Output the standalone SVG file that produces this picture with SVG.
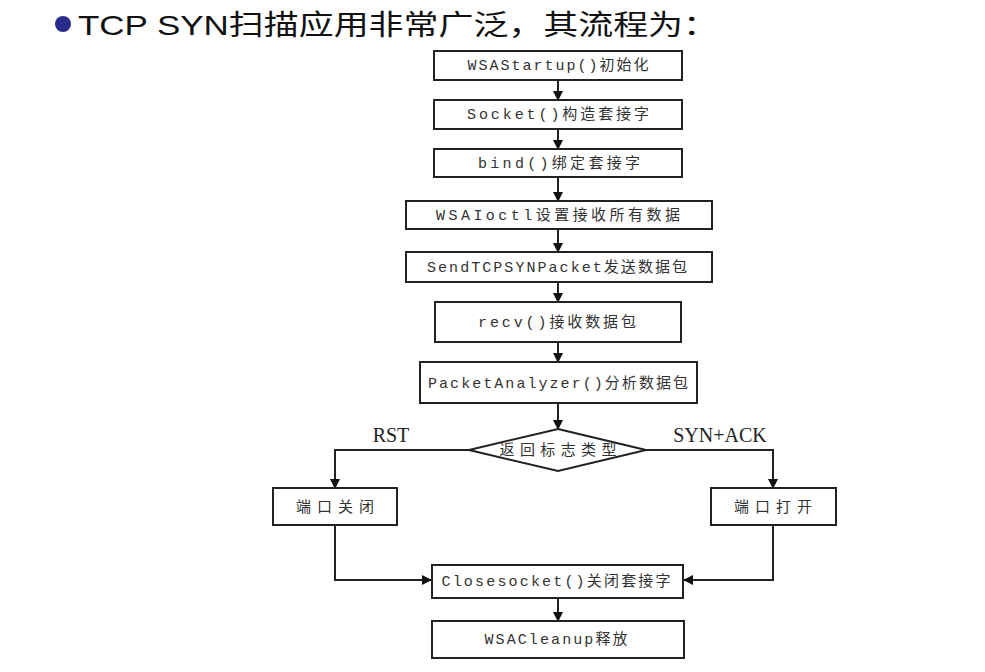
<svg xmlns="http://www.w3.org/2000/svg" width="985" height="672" viewBox="0 0 985 672">
<style>
.box{fill:#fff;stroke:#222;stroke-width:2}
.bt{font-family:"Liberation Mono","Noto Sans CJK SC",monospace;font-size:15px;fill:#333;text-anchor:middle}
.lbl{font-family:"Liberation Serif","Noto Sans CJK SC",serif;font-size:20px;fill:#222;text-anchor:middle}
.ln{fill:none;stroke:#222;stroke-width:2}
</style>
<defs>
<marker id="ah" markerWidth="10" markerHeight="10" refX="9" refY="5" orient="auto" markerUnits="userSpaceOnUse">
<path d="M0,0 L10,5 L0,10 Z" fill="#111"/>
</marker>
</defs>
<rect width="985" height="672" fill="#fff"/>
<g id="title">
<circle cx="63" cy="24" r="8" fill="#2b2b8c"/>
<text x="78" y="35" font-family="'Liberation Sans','Noto Sans CJK SC',sans-serif" font-size="28" fill="#111" textLength="640" lengthAdjust="spacingAndGlyphs">TCP  SYN扫描应用非常广泛，其流程为：</text>
</g>
<g id="connectors">
<path class="ln" d="M558,80 V100" marker-end="url(#ah)"/>
<path class="ln" d="M558,129 V149" marker-end="url(#ah)"/>
<path class="ln" d="M558,177 V201" marker-end="url(#ah)"/>
<path class="ln" d="M558,229 V252" marker-end="url(#ah)"/>
<path class="ln" d="M558,282 V302" marker-end="url(#ah)"/>
<path class="ln" d="M558,342 V362" marker-end="url(#ah)"/>
<path class="ln" d="M558,403 V429" marker-end="url(#ah)"/>
<path class="ln" d="M469,450 H335 V488" marker-end="url(#ah)"/>
<path class="ln" d="M646,450 H773 V488" marker-end="url(#ah)"/>
<path class="ln" d="M335,525 V580 H431" marker-end="url(#ah)"/>
<path class="ln" d="M773,525 V580 H684" marker-end="url(#ah)"/>
<path class="ln" d="M558,598 V621" marker-end="url(#ah)"/>
<text class="lbl" x="391" y="442">RST</text>
<text class="lbl" x="720" y="442">SYN+ACK</text>
</g>
<g id="n1"><rect class="box" x="434" y="51" width="248" height="29"/><text class="bt" x="558" y="70" textLength="181" lengthAdjust="spacing">WSAStartup()初始化</text></g>
<g id="n2"><rect class="box" x="434" y="100" width="248" height="29"/><text class="bt" x="558" y="119" textLength="182" lengthAdjust="spacing">Socket()构造套接字</text></g>
<g id="n3"><rect class="box" x="434" y="149" width="248" height="28"/><text class="bt" x="559" y="168" textLength="162" lengthAdjust="spacing">bind()绑定套接字</text></g>
<g id="n4"><rect class="box" x="406" y="201" width="306" height="28"/><text class="bt" x="558" y="220" textLength="244" lengthAdjust="spacing">WSAIoctl设置接收所有数据</text></g>
<g id="n5"><rect class="box" x="406" y="252" width="306" height="30"/><text class="bt" x="557" y="272" textLength="260" lengthAdjust="spacing">SendTCPSYNPacket发送数据包</text></g>
<g id="n6"><rect class="box" x="435" y="302" width="246" height="40"/><text class="bt" x="557" y="327" textLength="158" lengthAdjust="spacing">recv()接收数据包</text></g>
<g id="n7"><rect class="box" x="420" y="362" width="277" height="41"/><text class="bt" x="558" y="388" textLength="260" lengthAdjust="spacing">PacketAnalyzer()分析数据包</text></g>
<g id="n8"><path class="box" d="M558,429 L646,450 L558,471 L469,450 Z"/><text class="bt" x="558" y="455" textLength="117" lengthAdjust="spacing">返回标志类型</text></g>
<g id="n9"><rect class="box" x="273" y="488" width="124" height="37"/><text class="bt" x="335" y="512" textLength="78" lengthAdjust="spacing">端口关闭</text></g>
<g id="n10"><rect class="box" x="711" y="488" width="125" height="37"/><text class="bt" x="773" y="512" textLength="78" lengthAdjust="spacing">端口打开</text></g>
<g id="n11"><rect class="box" x="432" y="565" width="251" height="33"/><text class="bt" x="556" y="586" textLength="229" lengthAdjust="spacing">Closesocket()关闭套接字</text></g>
<g id="n12"><rect class="box" x="432" y="621" width="252" height="37"/><text class="bt" x="556" y="644" textLength="143" lengthAdjust="spacing">WSACleanup释放</text></g>
</svg>
